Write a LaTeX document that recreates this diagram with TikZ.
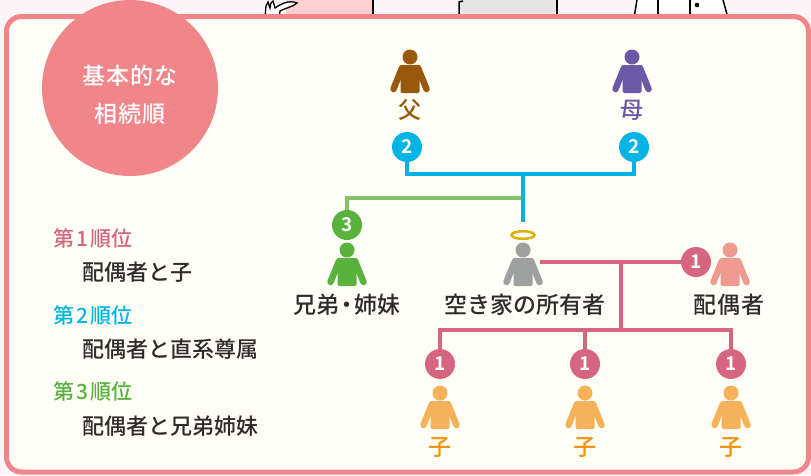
\documentclass[tikz,border=0pt]{standalone}
\usepackage{fontspec}
\setmainfont{Noto Sans CJK JP}[UprightFont=* Medium,BoldFont=* Bold]
\usetikzlibrary{positioning}

\definecolor{pagebg}{HTML}{FCF5F7}
\definecolor{paper}{HTML}{FFFEF7}
\definecolor{rose}{HTML}{F0868A}
\definecolor{sky}{HTML}{00B5E6}
\definecolor{leaf}{HTML}{58B23D}
\definecolor{leafline}{HTML}{84C367}
\definecolor{berry}{HTML}{D6657F}
\definecolor{fathercol}{HTML}{98590C}
\definecolor{mothercol}{HTML}{6A5AA6}
\definecolor{ownercol}{HTML}{9E9F9F}
\definecolor{spousecol}{HTML}{EF9A8F}
\definecolor{childcol}{HTML}{F6B25A}
\definecolor{childtext}{HTML}{F29300}
\definecolor{ink}{HTML}{2E2B2A}
\definecolor{halocol}{HTML}{DFAF00}

\tikzset{
  person/.pic={
    \fill (0,0) circle (7.5);
    \fill[rounded corners=1.5] (-9.5,8) -- (9.5,8) -- (9.5,36) -- (-9.5,36) -- cycle;
    \draw[line width=6.5,line cap=round] (-8,11) -- (-16.5,32);
    \draw[line width=6.5,line cap=round] (8,11) -- (16.5,32);
  },
  badge/.style={circle,minimum size=30pt,inner sep=0pt,text=white,
    font=\bfseries\fontsize{19}{19}\selectfont},
  who/.style={font=\fontsize{23}{23}\selectfont,text=ink},
  rank/.style={anchor=west,font=\fontsize{21}{21}\selectfont},
  heirs/.style={anchor=west,font=\fontsize{22}{22}\selectfont,text=ink},
  tree/.style={line width=4pt}
}

\begin{document}
\begin{tikzpicture}[x=1pt,y=-1pt]
\useasboundingbox (0,0) rectangle (811,475);
\fill[pagebg] (0,0) rectangle (811,475);

%Cut-off drawings above the frame
\begin{scope}
  \clip (0,0) rectangle (811,18);
  \fill[pink!70!pagebg] (286,0) rectangle (373,18);
  \draw[black,line width=1.5] (373,0) -- (373,18);
  \filldraw[fill=white,draw=black,line width=1.3] (265,18) -- (266,6) -- (268,2) -- (270,8)
    -- (271,3) -- (273,1) -- (275,8) .. controls (282,3) and (290,0) .. (297,3)
    .. controls (293,7) and (285,8) .. (280,11) -- (279,18) -- cycle;
  \fill[gray!20] (459,0) rectangle (557,18);
  \draw[black,line width=1.5] (463,1) -- (459,2) -- (459,18);
  \draw[black,line width=1.5] (557,0) -- (557,18);
  \fill[white] (636,0) -- (724,0) -- (727,18) -- (634,18) -- cycle;
  \draw[black,line width=1.5] (637,0) -- (634,18);
  \draw[black,line width=1.5] (658,0) -- (658,18);
  \draw[black,line width=1.5] (690,0) -- (690,18);
  \fill[black] (697,5) circle (2.3);
  \draw[black,line width=1.5] (723,0) -- (728,18);
\end{scope}

%Frame
\filldraw[fill=paper,draw=rose,line width=5pt,rounded corners=15] (6.5,16.5) rectangle (808.5,472);

%Title disc
\fill[rose] (130,88) circle (88);
\node[text=white,font=\fontsize{23}{23}\selectfont] (title1) at (130,76) {基\kern1pt 本\kern1pt 的\kern1pt な};
\node[text=white,font=\fontsize{23}{23}\selectfont] (title2) at (130,114) {相\kern1pt 続\kern1pt 順};

%Order list
\node[rank,text=berry] (r1) at (50,238) {第\kern2pt 1\kern2pt 順位};
\node[heirs] (h1) at (79,272) {配偶者と子};
\node[rank,text=sky] (r2) at (50,315) {第\kern2pt 2\kern2pt 順位};
\node[heirs] (h2) at (79,349) {配偶者と直系尊属};
\node[rank,text=leaf] (r3) at (50,391) {第\kern2pt 3\kern2pt 順位};
\node[heirs] (h3) at (79,426) {配偶者と兄弟姉妹};

%Parents
\pic[color=fathercol] at (410,57) {person};
\node[who,text=fathercol] (father) at (410,110) {父};
\pic[color=mothercol] at (632,57) {person};
\node[who,text=mothercol] (mother) at (632,110) {母};
\node[badge,fill=sky] (b2f) at (407,147) {2};
\node[badge,fill=sky] (b2m) at (634,147) {2};

%Siblings
\node[badge,fill=leaf] (b3) at (347,225) {3};
\pic[color=leaf] at (347,250) {person};
\node[who] (sib) at (347,305) {兄弟\kern-4pt・\kern-4pt 姉妹};

%Owner
\draw[halocol,line width=2.5pt] (523,235) ellipse (11.5 and 3.8);
\pic[color=ownercol] at (523,250) {person};
\node[who] (owner) at (525,305) {空き家の所有者};

%Spouse
\node[badge,fill=berry] (b1s) at (696,262) {1};
\pic[color=spousecol] at (730,250) {person};
\node[who] (spouse) at (729,305) {配\kern1pt 偶\kern1pt 者};

%Children
\foreach \x/\n in {440/a,585/b,731/c}{
  \node[badge,fill=berry] (b1\n) at (\x,364) {1};
  \pic[color=childcol] at (\x,393) {person};
  \node[who,text=childtext] (child\n) at (\x,447) {子};
}

%Lines of the tree
\coordinate (p2) at (523,174);
\coordinate (p2end) at (523,222);
\coordinate (g3) at (523,198);
\coordinate (own) at (540,262);
\coordinate (k1) at (621,262);
\coordinate (k2) at (621,330);
\draw[tree,leafline] (g3) -| (b3.north);
\draw[tree,sky] (b2f.south) |- (p2) -| (b2m.south);
\draw[tree,sky] (p2) -- (p2end);
\draw[tree,berry] (own) -- (b1s.west);
\draw[tree,berry] (k1) -- (k2);
\draw[tree,berry] (b1a.north) |- (k2) -| (b1c.north);
\draw[tree,berry] (b1b.north) -- (b1b.north |- k2);
\end{tikzpicture}
\end{document}
